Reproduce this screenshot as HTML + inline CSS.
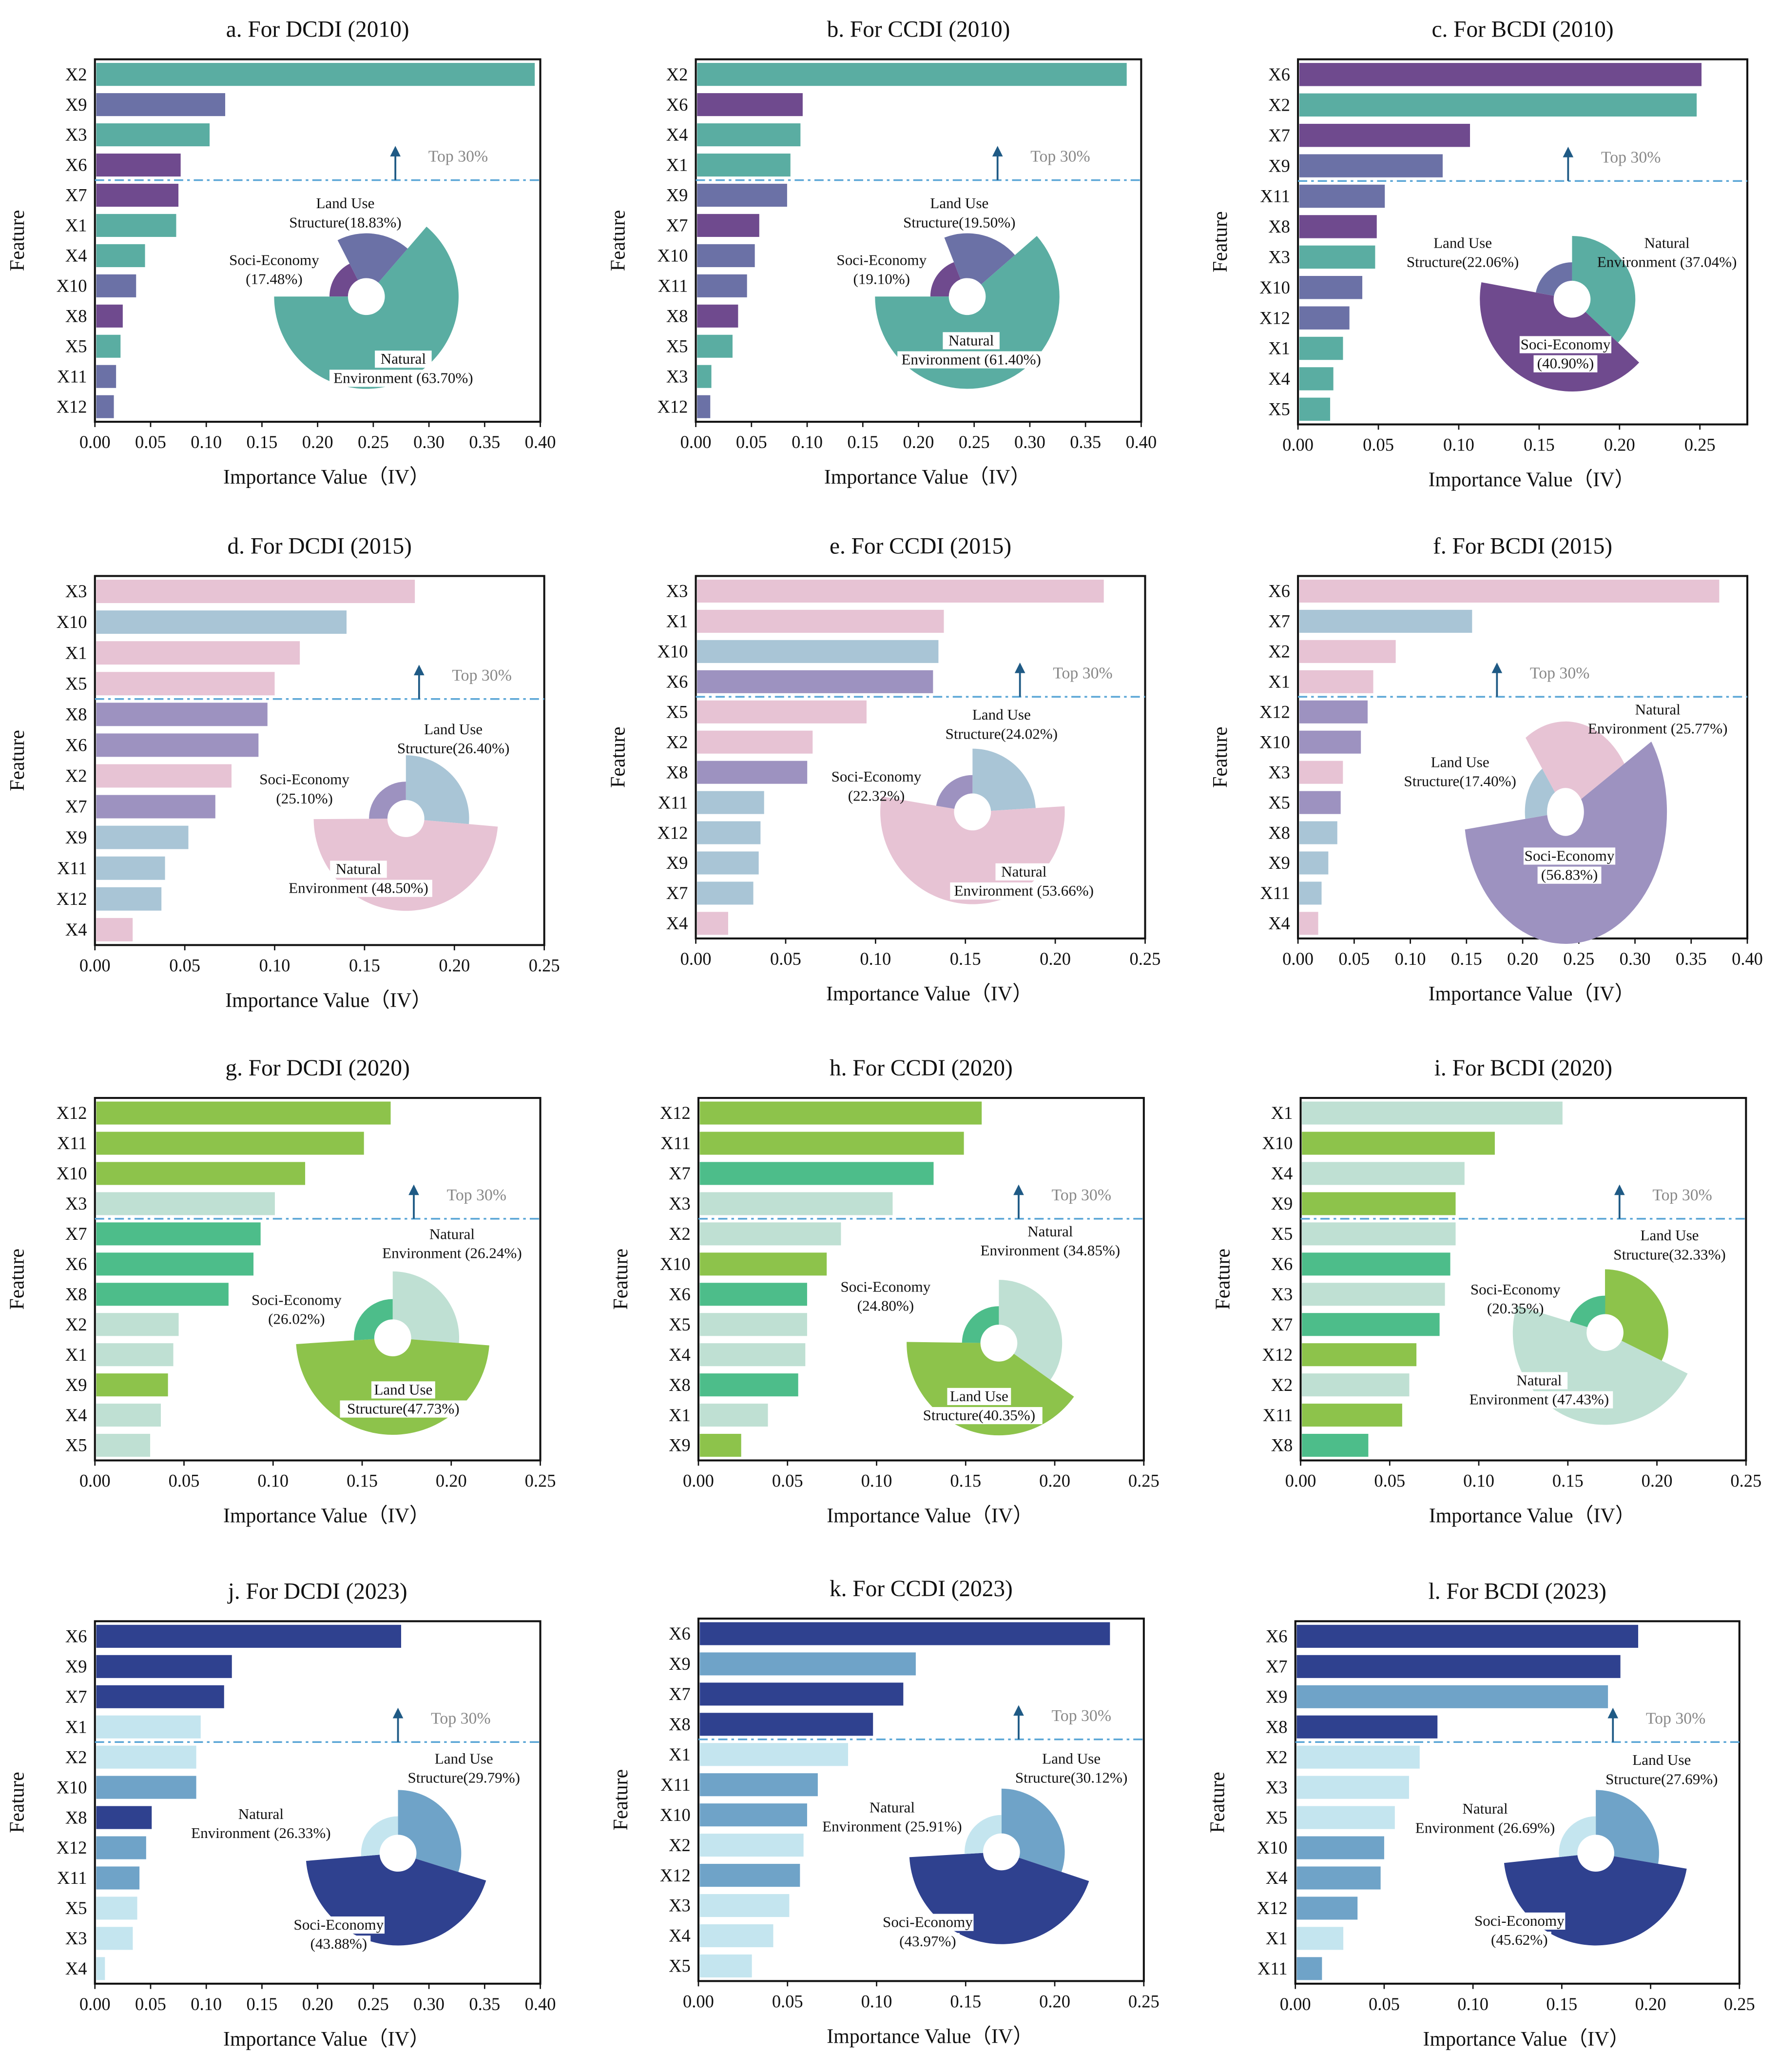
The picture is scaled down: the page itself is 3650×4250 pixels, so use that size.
<!DOCTYPE html>
<html><head><meta charset="utf-8"><style>
html,body{margin:0;padding:0;background:#fff;}
svg{display:block;font-family:"Liberation Serif",serif;}
</style></head><body>
<svg id="chart" xmlns="http://www.w3.org/2000/svg" width="3650" height="4250" viewBox="0 0 1350 1572"></svg>
<script>
// ---- data ----
const featuresA=['X2','X9','X3','X6','X7','X1','X4','X10','X8','X5','X11','X12'];
const valuesA=[0.395,0.117,0.103,0.077,0.075,0.073,0.045,0.037,0.025,0.023,0.019,0.017];
const groupsA=['N','L','N','S','S','N','N','L','S','N','L','L'];
const sharesA=[63.70,18.83,17.48];
const featuresB=['X2','X6','X4','X1','X9','X7','X10','X11','X8','X5','X3','X12'];
const valuesB=[0.387,0.096,0.094,0.085,0.082,0.057,0.053,0.046,0.038,0.033,0.014,0.013];
const groupsB=['N','S','N','N','L','S','L','L','S','N','N','L'];
const sharesB=[61.40,19.50,19.10];
const featuresC=['X6','X2','X7','X9','X11','X8','X3','X10','X12','X1','X4','X5'];
const valuesC=[0.251,0.248,0.107,0.090,0.054,0.049,0.048,0.040,0.032,0.028,0.022,0.020];
const groupsC=['S','N','S','L','L','S','N','L','L','N','N','N'];
const sharesC=[37.04,22.06,40.90];
const featuresD=['X3','X10','X1','X5','X8','X6','X2','X7','X9','X11','X12','X4'];
const valuesD=[0.178,0.140,0.114,0.100,0.096,0.091,0.076,0.067,0.052,0.039,0.037,0.021];
const groupsD=['N','L','N','N','S','S','N','S','L','L','L','N'];
const sharesD=[48.50,26.40,25.10];
const featuresE=['X3','X1','X10','X6','X5','X2','X8','X11','X12','X9','X7','X4'];
const valuesE=[0.227,0.138,0.135,0.132,0.095,0.065,0.062,0.038,0.036,0.035,0.032,0.018];
const groupsE=['N','N','L','S','N','N','S','L','L','L','L','N'];
const sharesE=[53.66,24.02,22.32];
const featuresF=['X6','X7','X2','X1','X12','X10','X3','X5','X8','X9','X11','X4'];
const valuesF=[0.375,0.155,0.087,0.067,0.062,0.056,0.040,0.038,0.035,0.027,0.021,0.018];
const groupsF=['N','L','N','N','S','S','N','S','L','L','L','N'];
const sharesF=[25.77,17.40,56.83];
const featuresG=['X12','X11','X10','X3','X7','X6','X8','X2','X1','X9','X4','X5'];
const valuesG=[0.166,0.151,0.118,0.101,0.093,0.089,0.075,0.047,0.044,0.041,0.037,0.031];
const groupsG=['L','L','L','N','S','S','S','N','N','L','N','N'];
const sharesG=[26.24,47.73,26.02];
const featuresH=['X12','X11','X7','X3','X2','X10','X6','X5','X4','X8','X1','X9'];
const valuesH=[0.159,0.149,0.132,0.109,0.080,0.072,0.061,0.061,0.060,0.056,0.039,0.024];
const groupsH=['L','L','S','N','N','L','S','N','N','S','N','L'];
const sharesH=[34.85,40.35,24.80];
const featuresI=['X1','X10','X4','X9','X5','X6','X3','X7','X12','X2','X11','X8'];
const valuesI=[0.147,0.109,0.092,0.087,0.087,0.084,0.081,0.078,0.065,0.061,0.057,0.038];
const groupsI=['N','L','N','L','N','S','N','S','L','N','L','S'];
const sharesI=[47.43,32.33,20.35];
const featuresJ=['X6','X9','X7','X1','X2','X10','X8','X12','X11','X5','X3','X4'];
const valuesJ=[0.275,0.123,0.116,0.095,0.091,0.091,0.051,0.046,0.040,0.038,0.034,0.009];
const groupsJ=['S','S','S','N','N','L','S','L','L','N','N','N'];
const sharesJ=[26.33,29.79,43.88];
const featuresK=['X6','X9','X7','X8','X1','X11','X10','X2','X12','X3','X4','X5'];
const valuesK=[0.231,0.122,0.115,0.098,0.084,0.067,0.061,0.059,0.057,0.051,0.042,0.030];
const groupsK=['S','L','S','S','N','L','L','N','L','N','N','N'];
const sharesK=[25.91,30.12,43.97];
const featuresL=['X6','X7','X9','X8','X2','X3','X5','X10','X4','X12','X1','X11'];
const valuesL=[0.193,0.183,0.176,0.080,0.070,0.064,0.056,0.050,0.048,0.035,0.027,0.015];
const groupsL=['S','S','L','S','N','N','N','L','L','L','N','L'];
const sharesL=[26.69,27.69,45.62];
const tickLabels40=['0.00','0.05','0.10','0.15','0.20','0.25','0.30','0.35','0.40'];
const tickLabels25=['0.00','0.05','0.10','0.15','0.20','0.25'];

// ---- layout / style ----
const PAL=[{N:'#5aada2',L:'#6b71a6',S:'#6f4a8e'},{N:'#e7c3d4',L:'#a9c5d6',S:'#9d92c0'},{N:'#bfe0d3',L:'#8dc34b',S:'#4dbd8a'},{N:'#c4e5ef',L:'#6fa3c8',S:'#2f418f'}];
const panels=[
 {k:'a',t:'a. For DCDI (2010)',f:featuresA,v:valuesA,g:groupsA,s:sharesA,box:[72,45,410,320],xmax:0.40,ticks:tickLabels40,row:0,ax:300,pie:[278,225,270,['S','L','N'],1,1],lab:{L:[262,158,0],S:[208,201,0],N:[306,276,1]}},
 {k:'b',t:'b. For CCDI (2010)',f:featuresB,v:valuesB,g:groupsB,s:sharesB,box:[528,45,866,320],xmax:0.40,ticks:tickLabels40,row:0,ax:757,pie:[734,225,270,['S','L','N'],1,1],lab:{L:[728,158,0],S:[669,201,0],N:[737,262,1]}},
 {k:'c',t:'c. For BCDI (2010)',f:featuresC,v:valuesC,g:groupsC,s:sharesC,box:[985,45,1326,322],xmax:0.2795,ticks:tickLabels25,row:0,ax:1190,pie:[1193,227,0,['N','S','L'],1,1],lab:{L:[1110,188,0],N:[1265,188,0],S:[1188,265,1]}},
 {k:'d',t:'d. For DCDI (2015)',f:featuresD,v:valuesD,g:groupsD,s:sharesD,box:[72,437,413,717],xmax:0.25,ticks:tickLabels25,row:1,ax:318,pie:[308,621,0,['L','N','S'],1,1],lab:{L:[344,557,0],S:[231,595,0],N:[272,663,1]}},
 {k:'e',t:'e. For CCDI (2015)',f:featuresE,v:valuesE,g:groupsE,s:sharesE,box:[528,437,869,712],xmax:0.25,ticks:tickLabels25,row:1,ax:774,pie:[738,616,0,['L','N','S'],1,1],lab:{L:[760,546,0],S:[665,593,0],N:[777,665,1]}},
 {k:'f',t:'f. For BCDI (2015)',f:featuresF,v:valuesF,g:groupsF,s:sharesF,box:[985,437,1326,712],xmax:0.40,ticks:tickLabels40,row:1,ax:1136,pie:[1188,616,325,['N','S','L'],1.3,1.1],lab:{N:[1258,542,0],L:[1108,582,0],S:[1191,653,1]}},
 {k:'g',t:'g. For DCDI (2020)',f:featuresG,v:valuesG,g:groupsG,s:sharesG,box:[72,833,410,1108],xmax:0.25,ticks:tickLabels25,row:2,ax:314,pie:[298,1015,0,['N','L','S'],1,1.05],lab:{N:[343,940,0],S:[225,990,0],L:[306,1058,1]}},
 {k:'h',t:'h. For CCDI (2020)',f:featuresH,v:valuesH,g:groupsH,s:sharesH,box:[530,833,868,1108],xmax:0.25,ticks:tickLabels25,row:2,ax:773,pie:[758,1019,0,['N','L','S'],1,1],lab:{N:[797,938,0],S:[672,980,0],L:[743,1063,1]}},
 {k:'i',t:'i. For BCDI (2020)',f:featuresI,v:valuesI,g:groupsI,s:sharesI,box:[987,833,1325,1108],xmax:0.25,ticks:tickLabels25,row:2,ax:1229,pie:[1218,1011,0,['L','N','S'],1,1],lab:{L:[1267,941,0],S:[1150,982,0],N:[1168,1051,1]}},
 {k:'j',t:'j. For DCDI (2023)',f:featuresJ,v:valuesJ,g:groupsJ,s:sharesJ,box:[72,1230,410,1505],xmax:0.40,ticks:tickLabels40,row:3,ax:302,pie:[302,1406,0,['L','S','N'],1,1],lab:{L:[352,1338,0],N:[198,1380,0],S:[257,1464,1]}},
 {k:'k',t:'k. For CCDI (2023)',f:featuresK,v:valuesK,g:groupsK,s:sharesK,box:[530,1228,868,1503],xmax:0.25,ticks:tickLabels25,row:3,ax:773,pie:[760,1405,0,['L','S','N'],1,1],lab:{L:[813,1338,0],N:[677,1375,0],S:[704,1462,1]}},
 {k:'l',t:'l. For BCDI (2023)',f:featuresL,v:valuesL,g:groupsL,s:sharesL,box:[983,1230,1320,1505],xmax:0.25,ticks:tickLabels25,row:3,ax:1224,pie:[1211,1406,0,['L','S','N'],1,1],lab:{L:[1261,1339,0],N:[1127,1376,0],S:[1153,1461,1]}}
];
const NS='http://www.w3.org/2000/svg';
const svg=document.getElementById('chart');
function mk(tag,attrs,parent,txt){const e=document.createElementNS(NS,tag);for(const a in attrs)e.setAttribute(a,attrs[a]);if(txt!==undefined)e.textContent=txt;(parent||svg).appendChild(e);return e;}

panels.forEach(p=>{
 const [x0,y0,x1,y1]=p.box;
 const pal=PAL[p.row];
 const g=mk('g',{});
 
 
 const xs=v=>x0+(v/p.xmax)*(x1-x0);
 const band=(y1-y0)/12;
 const t=mk('text',{x:(x0+x1)/2,y:y0-17,'text-anchor':'middle','font-size':17.5,fill:'#111'},g,p.t);
 
 
 p.v.forEach((v,i)=>{
  const cy=y0+(i+0.5)*band;
  const r=mk('rect',{x:x0+1,y:cy-band*0.38,width:Math.max(0,xs(v)-x0-1),height:band*0.76,fill:pal[p.g[i]]},g);
  
  
  const l=mk('text',{x:x0-6,y:cy+4.5,'text-anchor':'end','font-size':13.5,fill:'#111'},g,p.f[i]);
  
  
 });
 const fr=mk('rect',{x:x0,y:y0,width:x1-x0,height:y1-y0,fill:'none',stroke:'#111','stroke-width':1.5},g);
 
 
 p.ticks.forEach((lab,i)=>{
  const x=xs(i*0.05);
  mk('line',{x1:x,x2:x,y1:y1,y2:y1+4,stroke:'#111','stroke-width':1},g);
  const tl=mk('text',{x:x,y:y1+20,'text-anchor':'middle','font-size':13.5,fill:'#111'},g,lab);
  
  
 });
 const xt=mk('text',{x:(x0+x1)/2+(x1-x0)*0.02,y:y1+47,'text-anchor':'middle','font-size':15.5,fill:'#111'},g,'Importance Value（IV）');
 
 
 const yx=x0-54, yy=(y0+y1)/2;
 const yt=mk('text',{x:yx,y:yy,'text-anchor':'middle','font-size':15.5,fill:'#111',transform:'rotate(-90 '+yx+' '+yy+')'},g,'Feature');
 
 
 const ly=y0+4*band;
 const dl=mk('line',{x1:x0,x2:x1,y1:ly,y2:ly,stroke:'#5aa6d6','stroke-width':1.3,'stroke-dasharray':'7,3,2,3'},g);
 
 
 mk('line',{x1:p.ax,x2:p.ax,y1:ly,y2:ly-20,stroke:'#1f5a85','stroke-width':1.4},g);
 mk('path',{d:`M${p.ax-4},${ly-18} L${p.ax+4},${ly-18} L${p.ax},${ly-26} Z`,fill:'#1f5a85'},g);
 const tt=mk('text',{x:p.ax+25,y:ly-14,'font-size':12.5,fill:'#888'},g,'Top  30%');
 
 
 const [cx,cy,start,order,sy,sc]=p.pie;
 const shareOf={N:p.s[0],L:p.s[1],S:p.s[2]};
 const ranked=['N','L','S'].slice().sort((a,b)=>shareOf[a]-shareOf[b]);
 const radii=[28,48,70];
 const hole=14;
 let ang=start;
 order.forEach(key=>{
  const sweep=shareOf[key]/100*360;
  const r=radii[ranked.indexOf(key)]*sc;
  const a0=ang*Math.PI/180,a1=(ang+sweep)*Math.PI/180;
  const pt=(rr,a)=>[(cx+rr*Math.sin(a)).toFixed(2),(cy-rr*Math.cos(a)*sy).toFixed(2)];
  const large=sweep>180?1:0;
  const [ox0,oy0]=pt(r,a0),[ox1,oy1]=pt(r,a1),[ix1,iy1]=pt(hole,a1),[ix0,iy0]=pt(hole,a0);
  const d=`M${ox0},${oy0} A${r},${r*sy} 0 ${large} 1 ${ox1},${oy1} L${ix1},${iy1} A${hole},${hole*sy} 0 ${large} 0 ${ix0},${iy0} Z`;
  const s=mk('path',{d:d,fill:pal[key]},g);
  
  
  ang+=sweep;
 });
 ['N','L','S'].forEach(key=>{
  const [lx,ly2,boxed]=p.lab[key];
  const pct=shareOf[key].toFixed(2)+'%';
  const lines=key==='N'?['Natural','Environment ('+pct+')']:key==='L'?['Land Use','Structure('+pct+')']:['Soci-Economy','('+pct+')'];
  if(boxed){
   lines.forEach((ln,j)=>{
    const w=ln.length*5.3+6;
    mk('rect',{x:lx-w/2,y:ly2+j*14.5-10,width:w,height:13,fill:'#fff'},g);
   });
  }
  lines.forEach((ln,j)=>{
   const tx=mk('text',{x:lx,y:ly2+j*14.5,'text-anchor':'middle','font-size':11.5,fill:'#111'},g,ln);
   
   
  });
 });
});
</script>
</body></html>
